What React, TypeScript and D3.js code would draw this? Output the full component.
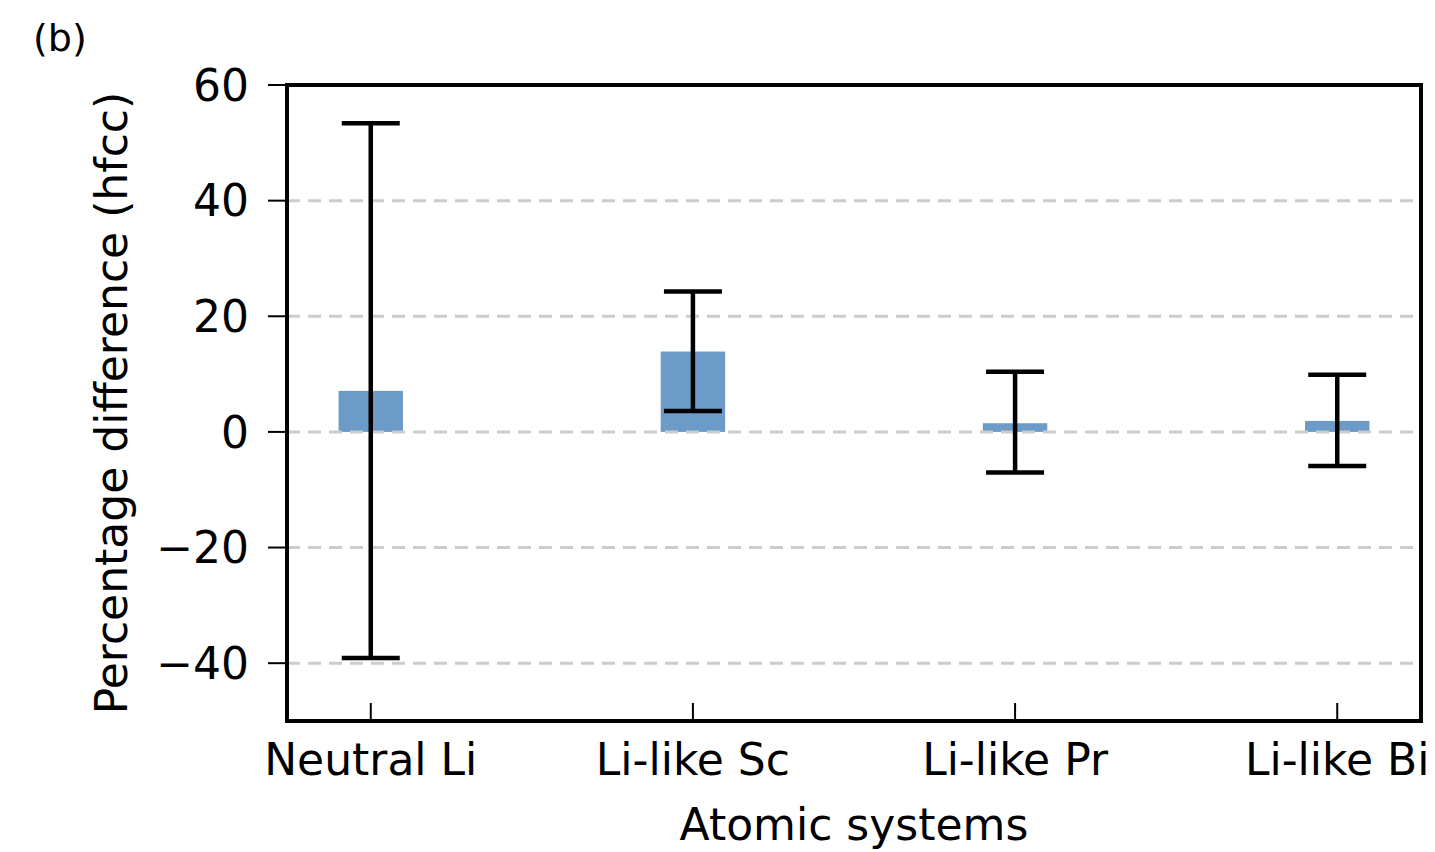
import React from "react";
import * as d3 from "d3";

const categories = ["Neutral Li", "Li-like Sc", "Li-like Pr", "Li-like Bi"];
const values = [7.1, 13.9, 1.5, 1.9];
const errLow = [-39.1, 3.6, -7.0, -5.9];
const errHigh = [53.4, 24.3, 10.4, 9.9];
const yTicks = [-40, -20, 0, 20, 40, 60];

const W = 1435;
const H = 852;
const M = { left: 287, right: 1421, top: 85, bottom: 721 };
const FONT = "DejaVu Sans, sans-serif";

export default function App() {
  const x = d3.scaleLinear().domain([-0.26, 3.26]).range([M.left, M.right]);
  const y = d3.scaleLinear().domain([-50, 60]).range([M.bottom, M.top]);
  const barW = x(0.2) - x(0);
  const capHalf = x(0.09) - x(0);
  const fmt = (v: number) => (v < 0 ? "\u2212" + Math.abs(v) : String(v));

  return (
    <div style={{ position: "absolute", left: 0, top: 0 }}>
      <svg width={W} height={H} style={{ display: "block", background: "#fff" }}>
        <text x={33} y={51} fontFamily={FONT} fontSize={38} fill="#000">(b)</text>
        {/* bars */}
        {categories.map((c, i) => (
          <rect
            key={c}
            x={x(i) - barW / 2}
            width={barW}
            y={y(Math.max(0, values[i]))}
            height={Math.abs(y(values[i]) - y(0))}
            fill="#6b9bc6"
          />
        ))}
        {/* grid */}
        {yTicks.map((t) => (
          <line
            key={"g" + t}
            x1={M.left}
            x2={M.right}
            y1={y(t)}
            y2={y(t)}
            stroke="#cccccc"
            strokeWidth={3}
            strokeDasharray="13 8"
          />
        ))}
        {/* error bars */}
        {categories.map((c, i) => (
          <g key={"e" + c} stroke="#000" strokeWidth={4.5}>
            <line x1={x(i)} x2={x(i)} y1={y(errLow[i])} y2={y(errHigh[i])} />
            <line x1={x(i) - capHalf} x2={x(i) + capHalf} y1={y(errLow[i])} y2={y(errLow[i])} />
            <line x1={x(i) - capHalf} x2={x(i) + capHalf} y1={y(errHigh[i])} y2={y(errHigh[i])} />
          </g>
        ))}
        {/* frame */}
        <rect
          x={M.left}
          y={M.top}
          width={M.right - M.left}
          height={M.bottom - M.top}
          fill="none"
          stroke="#000"
          strokeWidth={4}
        />
        {/* y ticks */}
        {yTicks.map((t) => (
          <g key={"y" + t}>
            <line x1={M.left - 19} x2={M.left} y1={y(t)} y2={y(t)} stroke="#000" strokeWidth={2} />
            <text
              x={M.left - 38}
              y={y(t)}
              dy="0.36em"
              textAnchor="end"
              fontFamily={FONT}
              fontSize={44}
              fill="#000"
            >
              {fmt(t)}
            </text>
          </g>
        ))}
        {/* x ticks */}
        {categories.map((c, i) => (
          <g key={"x" + c}>
            <line x1={x(i)} x2={x(i)} y1={M.bottom} y2={M.bottom - 18} stroke="#000" strokeWidth={2} />
            <text x={x(i)} y={775} textAnchor="middle" fontFamily={FONT} fontSize={44} fill="#000">
              {c}
            </text>
          </g>
        ))}
        <text
          x={(M.left + M.right) / 2}
          y={840}
          textAnchor="middle"
          fontFamily={FONT}
          fontSize={44}
          fill="#000"
        >
          Atomic systems
        </text>
        <text
          transform={`translate(127, ${(M.top + M.bottom) / 2}) rotate(-90)`}
          textAnchor="middle"
          fontFamily={FONT}
          fontSize={44}
          fill="#000"
        >
          Percentage difference (hfcc)
        </text>
      </svg>
    </div>
  );
}
